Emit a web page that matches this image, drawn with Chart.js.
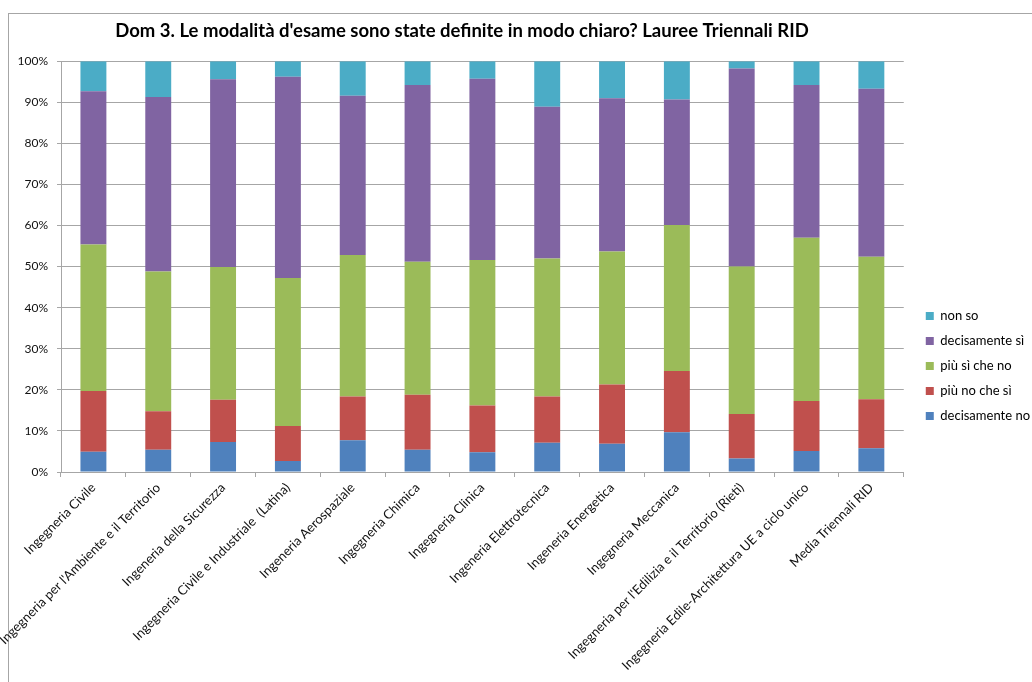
<!DOCTYPE html>
<html>
<head>
<meta charset="utf-8">
<script src="https://cdn.jsdelivr.net/npm/chart.js@4"></script>
<style>
    body { margin: 0; background: #fff; }
    #wrap { position: relative; width: 1032px; height: 682px; }
    #frame { position: absolute; left: 8px; top: 13px; right: 0; bottom: 0; border-left: 1px solid #a6a6a6; border-top: 1px solid #a6a6a6; }
    canvas { position: absolute; left: 0; top: 0; }
</style>
</head>
<body>
<div id="wrap">
    <div id="frame"></div>
    <canvas id="domChart" width="1032" height="682"></canvas>
</div>
<script>
// categorie (corsi di laurea)
const corsi = [
    "Ingegneria Civile",
    "Ingegneria per l'Ambiente e il Territorio",
    "Ingeneria della Sicurezza",
    "Ingegneria Civile e Industriale  (Latina)",
    "Ingeneria Aerospaziale",
    "Ingegneria Chimica",
    "Ingegneria Clinica",
    "Ingeneria Elettrotecnica",
    "Ingeneria Energetica",
    "Ingegneria Meccanica",
    "Ingegneria per l'Edilizia e il Territorio (Rieti)",
    "Ingegneria Edile-Architettura UE a ciclo unico",
    "Media Triennali RID"
];

// percentuali per risposta
const decisamenteNo = [4.9, 5.4, 7.3, 2.7, 7.7, 5.4, 4.8, 7.1, 6.9, 9.7, 3.3, 5.1, 5.8];
const piuNoCheSi    = [14.8, 9.4, 10.3, 8.5, 10.7, 13.4, 11.4, 11.3, 14.4, 14.9, 10.8, 12.2, 11.9];
const piuSiCheNo    = [35.7, 34.0, 32.3, 36.0, 34.4, 32.4, 35.4, 33.6, 32.4, 35.5, 35.9, 39.7, 34.7];
const decisamenteSi = [37.3, 42.5, 45.7, 49.0, 38.8, 43.0, 44.1, 36.9, 37.3, 30.6, 48.2, 37.2, 40.9];
const nonSo         = [7.3, 8.7, 4.4, 3.8, 8.4, 5.8, 4.3, 11.1, 9.0, 9.3, 1.8, 5.8, 6.7];

// tacche asse Y
const tickY = [0, 10, 20, 30, 40, 50, 60, 70, 80, 90, 100];

const FONT = "Lato, 'Open Sans', sans-serif";
const grigio = "#a6a6a6";

// sposta legenda e titolo come nell'originale
const aggiusta = {
    id: "aggiusta",
    afterLayout(chart) {
        const lg = chart.legend;
        const dx = 10, dy = 21;
        lg.left += dx; lg.right += dx;
        lg.top += dy; lg.bottom += dy;
        const t = chart.titleBlock;
        t.left -= 57; t.right -= 57;
    }
};

const ctx = document.getElementById("domChart");

new Chart(ctx, {
    type: "bar",
    data: {
        labels: corsi,
        datasets: [
            { label: "decisamente no", data: decisamenteNo, backgroundColor: "#4f81bd" },
            { label: "più no che sì", data: piuNoCheSi, backgroundColor: "#c0504d" },
            { label: "più sì che no", data: piuSiCheNo, backgroundColor: "#9bbb59" },
            { label: "decisamente sì", data: decisamenteSi, backgroundColor: "#8064a2" },
            { label: "non so", data: nonSo, backgroundColor: "#4bacc6" }
        ]
    },
    options: {
        responsive: false,
        animation: false,
        devicePixelRatio: 1,
        barPercentage: 1,
        categoryPercentage: 0.4,
        layout: { padding: { top: 8, left: 8, right: 2, bottom: 0 } },
        plugins: {
            title: {
                display: true,
                text: "Dom 3. Le modalità d'esame sono state definite in modo chiaro? Lauree Triennali RID",
                color: "#000",
                font: { family: FONT, size: 18.5, weight: "bold" },
                padding: { top: 12, bottom: 19 }
            },
            legend: {
                position: "right",
                reverse: true,
                labels: {
                    boxWidth: 8,
                    boxHeight: 8,
                    padding: 12,
                    color: "#000",
                    font: { family: FONT, size: 13 }
                }
            },
            tooltip: { enabled: false }
        },
        scales: {
            x: {
                stacked: true,
                grid: { display: true, drawOnChartArea: false, offset: true, color: grigio, tickLength: 5 },
                border: { color: grigio },
                ticks: {
                    autoSkip: false,
                    minRotation: 45,
                    maxRotation: 45,
                    color: "#111",
                    font: { family: FONT, size: 13 }
                },
                afterFit: (s) => { s.height = 210; }
            },
            y: {
                stacked: true,
                min: 0,
                max: 100,
                afterBuildTicks: (s) => { s.ticks = tickY.map(v => ({ value: v })); },
                grid: { color: grigio, tickLength: 4 },
                border: { color: grigio },
                ticks: {
                    padding: 9,
                    color: "#111",
                    font: { family: FONT, size: 12 },
                    callback: (v) => v + "%"
                },
                afterFit: (s) => { s.width = 53; }
            }
        }
    },
    plugins: [aggiusta]
});
</script>
</body>
</html>
